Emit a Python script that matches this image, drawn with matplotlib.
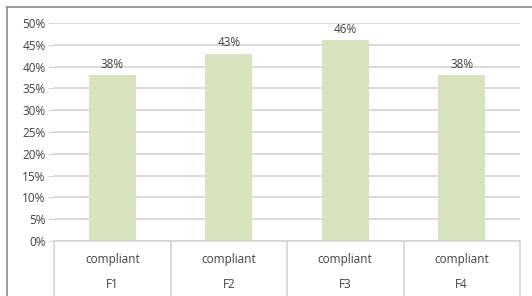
import matplotlib.pyplot as plt
from matplotlib.lines import Line2D

categories = ['F1', 'F2', 'F3', 'F4']
groups = ['compliant', 'compliant', 'compliant', 'compliant']
values = [38, 43, 46, 38]
yticks = [0, 5, 10, 15, 20, 25, 30, 35, 40, 45, 50]

W, H = 532, 296
plt.rcParams['font.family'] = ['Open Sans', 'DejaVu Sans']
text_col = '#404040'
grid_col = '#d4d4d4'

fig = plt.figure(figsize=(W / 100, H / 100), dpi=100)
# outer frame: only top and left edges are visible in the picture
fig.add_artist(Line2D([7 / W, 1], [1 - 7 / H, 1 - 7 / H], transform=fig.transFigure,
                      color='#8c8c8c', linewidth=1.2))
fig.add_artist(Line2D([7 / W, 7 / W], [0, 1 - 7 / H], transform=fig.transFigure,
                      color='#8c8c8c', linewidth=1.2))

left, right, top, bottom = 54, 520, 23, 241
ax = fig.add_axes([left / W, 1 - bottom / H, (right - left) / W, (bottom - top) / H])

x = range(len(values))
bars = ax.bar(x, values, width=0.4, color='#d7e4bd', zorder=2)
ax.bar_label(bars, labels=[f'{v}%' for v in values], padding=3,
             fontsize=8.5, color=text_col)

ax.set_xlim(-0.5, len(values) - 0.5)
ax.set_ylim(0, 50)
ax.set_yticks(yticks)
ax.set_yticklabels([f'{t}%' for t in yticks], fontsize=8.5, color=text_col)
ax.set_xticks([])
ax.yaxis.grid(True, color=grid_col, linewidth=1.2, zorder=0)
ax.tick_params(axis='y', length=4, color=grid_col, pad=2)
for s in ['top', 'right', 'left']:
    ax.spines[s].set_visible(False)
ax.spines['bottom'].set_color(grid_col)
ax.spines['bottom'].set_linewidth(1.2)

# category table under the axis
row1 = -(260 - bottom) / (bottom - top)
row2 = -(285 - bottom) / (bottom - top)
for i, (g, c) in enumerate(zip(groups, categories)):
    ax.text(i, row1, g, ha='center', va='center', fontsize=8.5, color=text_col,
            transform=ax.get_xaxis_transform())
    ax.text(i, row2, c, ha='center', va='center', fontsize=8.5, color=text_col,
            transform=ax.get_xaxis_transform())
for b in [i - 0.5 for i in range(len(values) + 1)]:
    ax.add_line(Line2D([b, b], [0, -0.3], transform=ax.get_xaxis_transform(),
                       color=grid_col, linewidth=1.2, clip_on=False))

fig.savefig('out.png', dpi=100)
